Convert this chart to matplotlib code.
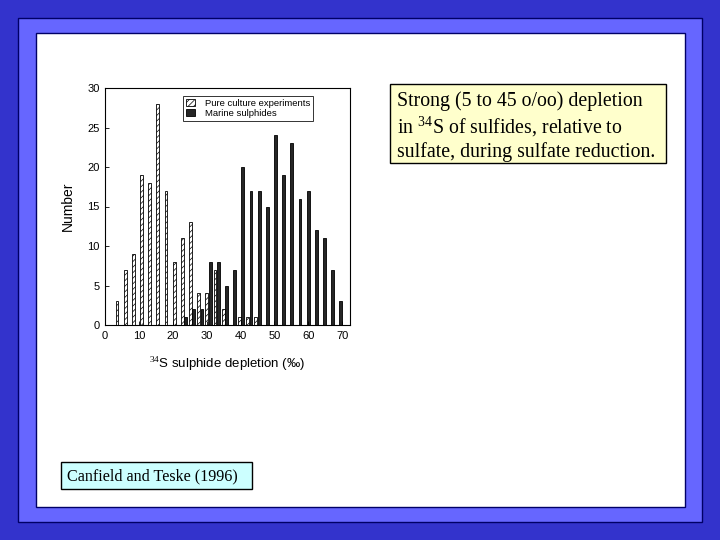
import matplotlib

matplotlib.use("Agg")
import matplotlib.pyplot as plt
from matplotlib.patches import Rectangle
import numpy as np

plt.rcParams.update({"font.family": ["Liberation Sans", "DejaVu Sans"],
                     "hatch.linewidth": 0.5,
                     "mathtext.fontset": "custom",
                     "mathtext.rm": "Liberation Serif"})

# histogram bins (bin index along the 34S depletion axis, ~2.4 per mil each)
bins = np.arange(29)
pure_culture = [0, 3, 7, 9, 19, 18, 28, 17, 8, 11, 13, 4, 4, 7, 2, 0, 1, 1, 1,
                0, 0, 0, 0, 0, 0, 0, 0, 0, 0]
marine = [0, 0, 0, 0, 0, 0, 0, 0, 0, 1, 2, 2, 8, 8, 5, 7, 20, 17, 17,
          15, 24, 19, 23, 16, 17, 12, 11, 7, 3]
xticks = [0, 10, 20, 30, 40, 50, 60, 70]
yticks = [0, 5, 10, 15, 20, 25, 30]

fig = plt.figure(figsize=(7.2, 5.4), dpi=100)
fig.patch.set_facecolor("#3333CC")
W, H = 720, 540

def frect(x0, y0, x1, y1, z, **kw):
    # rectangle given in pixel coords (top-left origin)
    fig.patches.append(Rectangle((x0 / W, 1 - y1 / H), (x1 - x0) / W, (y1 - y0) / H,
                                 transform=fig.transFigure, zorder=z, **kw))

frect(18, 18, 702, 522, 0.1, facecolor="#6666FF", edgecolor="#000066", lw=1)
frect(36, 33, 685, 507, 0.2, facecolor="white", edgecolor="#000066", lw=1)
frect(390, 84, 666, 163, 0.3, facecolor="#FFFFCC", edgecolor="black", lw=1)
frect(61, 462, 252, 489, 0.3, facecolor="#CCFFFF", edgecolor="black", lw=1)

ax = fig.add_axes([105 / W, 1 - 325 / H, 245 / W, 237 / H])
ax.set_zorder(1)
x_pc = 1.13 + 2.41 * bins
x_ms = 2.13 + 2.41 * bins
ax.bar(x_pc, pure_culture, 0.85, color="white", edgecolor="black", hatch="//////",
       linewidth=0.6, label="Pure culture experiments")
ax.bar(x_ms, marine, 0.85, color="#262626", edgecolor="black", linewidth=0.6,
       label="Marine sulphides")
ax.set_xlim(0, 72.3)
ax.set_ylim(0, 30)
ax.set_xticks(xticks)
ax.set_yticks(yticks)
ax.tick_params(direction="in", length=3, width=0.6, labelsize=8, pad=4)
for s in ax.spines.values():
    s.set_linewidth(0.8)
ax.set_ylabel("Number", fontsize=10, labelpad=9)
ax.set_xlabel("$^{34}$S sulphide depletion (‰)", fontsize=9.5, labelpad=11)
leg = ax.legend(loc="upper left", bbox_to_anchor=(0.32, 0.965), fontsize=6.8,
                frameon=True, fancybox=False, edgecolor="black", borderpad=0.3,
                handlelength=0.9, handleheight=0.8, labelspacing=0.1,
                handletextpad=1.1, borderaxespad=0)
leg.get_frame().set_linewidth(0.7)

fig.text(397 / W, 1 - 91 / H,
         "Strong (5 to 45 o/oo) depletion\nin $^{\\mathrm{34}}$S of sulfides, relative to\nsulfate, during sulfate reduction.",
         family="Liberation Serif", fontsize=14.3, va="top", ha="left", linespacing=1.2,
         zorder=3)
fig.text(67 / W, 1 - 476 / H, "Canfield and Teske (1996)", family="Liberation Serif",
         fontsize=11.6, va="center", ha="left", zorder=3)

fig.savefig("out.png", dpi=100, facecolor=fig.get_facecolor())
